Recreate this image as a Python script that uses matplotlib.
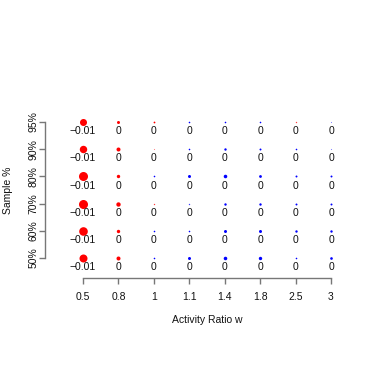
import numpy as np
import matplotlib
matplotlib.use("Agg")
from matplotlib import pyplot as plt

plt.rcParams['font.family'] = ['Liberation Sans', 'DejaVu Sans']

ratios = ["0.5", "0.8", "1", "1.1", "1.4", "1.8", "2.5", "3"]
samples = ["50%", "60%", "70%", "80%", "90%", "95%"]

# estimated effects, rows = samples (50% .. 95%), cols = ratios
effects = np.array([
    [-0.0100, -0.0025,  0.0004,  0.0014,  0.0020,  0.0018,  0.0004,  0.0011],  # 50%
    [-0.0116, -0.0018,  0.0004,  0.0004,  0.0014,  0.0014,  0.0009,  0.0009],  # 60%
    [-0.0127, -0.0030, -0.0003,  0.0003,  0.0009,  0.0009,  0.0006,  0.0006],  # 70%
    [-0.0127, -0.0018,  0.0004,  0.0014,  0.0020,  0.0012,  0.0006,  0.0006],  # 80%
    [-0.0086, -0.0025, -0.0002,  0.0004,  0.0009,  0.0006,  0.0004,  0.0002],  # 90%
    [-0.0077, -0.0014, -0.0005,  0.0004,  0.0004,  0.0004, -0.0003,  0.0002],  # 95%
])

fig = plt.figure(figsize=(3.92, 3.92), dpi=100)
ax = fig.add_axes([0.1148, 0.2908, 0.7653, 0.4286])

for i in range(len(samples)):
    for j in range(len(ratios)):
        v = effects[i, j]
        col = "#FF0000" if v < 0 else "#0000FF"
        a = min(1.0, max(0.25, abs(v) / 0.0004))
        ax.scatter(j, i, s=3318 * abs(v), color=col, alpha=a, linewidths=0)
        r = round(v, 2)
        lab = "0" if r == 0 else ("%g" % r).replace("-", "\u2212")
        ax.annotate(lab, (j, i), xytext=(0, -6.6), textcoords="offset points",
                    ha="center", va="center", fontsize=7.5, color="#111111")

ax.set_xlim(-1.0725, 7.395)
ax.set_ylim(-0.735, 5.44)
ax.set_xticks(range(len(ratios)))
ax.set_xticklabels(ratios)
ax.set_yticks(range(len(samples)))
ax.set_yticklabels(samples, rotation=90, va="center")

for s in ["top", "right"]:
    ax.spines[s].set_visible(False)
ax.spines["left"].set_bounds(0, 5)
ax.spines["bottom"].set_bounds(0, 7)
for s in ["left", "bottom"]:
    ax.spines[s].set_color("#777777")
    ax.spines[s].set_linewidth(1)
ax.tick_params(axis="both", direction="out", length=4.3, width=1,
               color="#777777", labelsize=7.5, labelcolor="#111111")
ax.tick_params(axis="x", pad=5.5)
ax.tick_params(axis="y", pad=0.5)

fig.text(83 / 392 + (331 - 83) / 2 / 392, 1 - 320 / 392, "Activity Ratio w",
         ha="center", va="center", fontsize=7.5, color="#111111")
fig.text(8 / 392, 1 - 190 / 392, "Sample %", rotation=90,
         ha="center", va="center", fontsize=7.5, color="#111111")

fig.savefig("out.png", dpi=100)
